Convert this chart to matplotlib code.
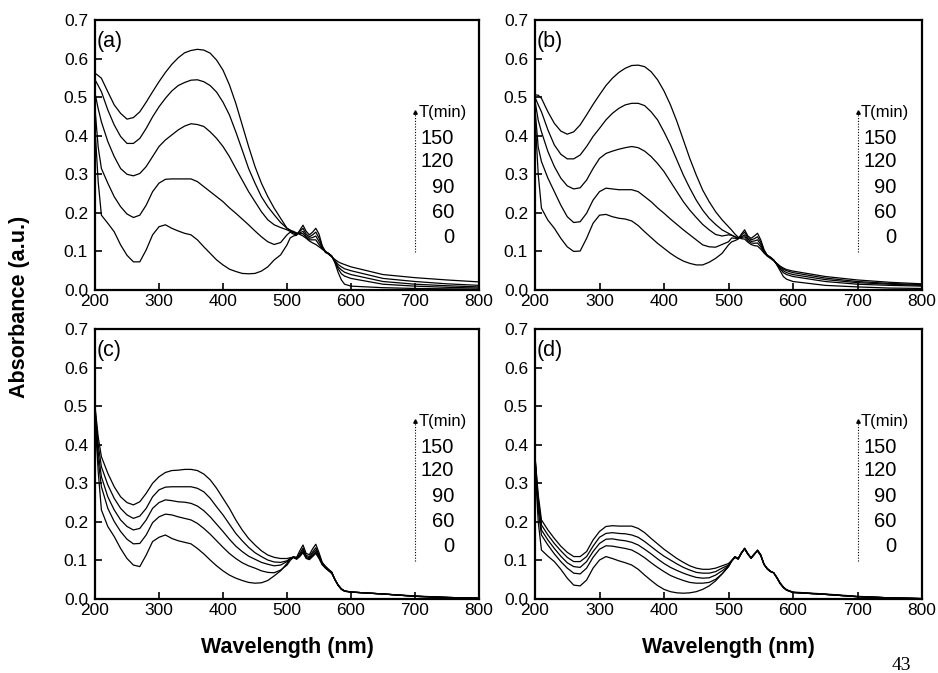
import matplotlib
matplotlib.use("Agg")
import matplotlib.pyplot as plt

plt.rcParams["font.family"] = ["Liberation Sans", "DejaVu Sans"]

# wavelength grid (nm) shared by all spectra
wavelength = [200, 205, 210, 220, 230, 240, 250, 260, 270, 280,
              290, 300, 310, 320, 330, 340, 350, 360, 370, 380,
              390, 400, 410, 420, 430, 440, 450, 460, 470, 480,
              490, 500, 505, 510, 515, 520, 525, 530, 535, 540,
              545, 550, 555, 560, 565, 570, 575, 580, 585, 590,
              600, 650, 700, 750, 800]

times = ["0", "60", "90", "120", "150"]

# panel (a)
a_0 = [0.420, 0.280, 0.194, 0.173, 0.151, 0.117, 0.090, 0.073, 0.073, 0.104,
       0.143, 0.164, 0.169, 0.160, 0.153, 0.147, 0.143, 0.130, 0.112, 0.095,
       0.078, 0.065, 0.054, 0.048, 0.043, 0.042, 0.043, 0.049, 0.060, 0.078,
       0.091, 0.117, 0.135, 0.140, 0.142, 0.155, 0.168, 0.152, 0.143, 0.150,
       0.160, 0.145, 0.115, 0.097, 0.095, 0.088, 0.070, 0.045, 0.026, 0.015,
       0.010, 0.006, 0.004, 0.003, 0.002]
a_60 = [0.470, 0.370, 0.315, 0.277, 0.242, 0.216, 0.197, 0.188, 0.194, 0.220,
        0.255, 0.277, 0.287, 0.288, 0.288, 0.288, 0.288, 0.281, 0.268, 0.255,
        0.242, 0.229, 0.213, 0.199, 0.184, 0.169, 0.153, 0.138, 0.125, 0.118,
        0.123, 0.143, 0.150, 0.145, 0.143, 0.152, 0.160, 0.145, 0.138, 0.143,
        0.150, 0.135, 0.113, 0.100, 0.095, 0.088, 0.072, 0.055, 0.042, 0.036,
        0.030, 0.015, 0.010, 0.007, 0.005]
a_90 = [0.510, 0.470, 0.436, 0.385, 0.346, 0.315, 0.300, 0.296, 0.302, 0.320,
        0.346, 0.372, 0.389, 0.402, 0.415, 0.425, 0.431, 0.429, 0.424, 0.410,
        0.393, 0.372, 0.346, 0.315, 0.285, 0.255, 0.229, 0.203, 0.182, 0.169,
        0.162, 0.156, 0.152, 0.148, 0.146, 0.148, 0.152, 0.140, 0.134, 0.136,
        0.140, 0.126, 0.110, 0.100, 0.094, 0.087, 0.074, 0.060, 0.052, 0.046,
        0.040, 0.022, 0.015, 0.011, 0.008]
a_120 = [0.545, 0.530, 0.514, 0.467, 0.428, 0.398, 0.380, 0.380, 0.393, 0.419,
         0.449, 0.475, 0.497, 0.516, 0.530, 0.538, 0.544, 0.545, 0.540, 0.530,
         0.513, 0.487, 0.454, 0.410, 0.363, 0.315, 0.277, 0.242, 0.216, 0.195,
         0.175, 0.160, 0.155, 0.150, 0.147, 0.146, 0.146, 0.136, 0.130, 0.130,
         0.130, 0.118, 0.107, 0.099, 0.093, 0.086, 0.076, 0.066, 0.060, 0.055,
         0.050, 0.030, 0.022, 0.016, 0.012]
a_150 = [0.562, 0.556, 0.549, 0.514, 0.480, 0.458, 0.443, 0.447, 0.462, 0.487,
         0.514, 0.540, 0.564, 0.585, 0.602, 0.615, 0.621, 0.624, 0.622, 0.614,
         0.596, 0.570, 0.532, 0.484, 0.428, 0.372, 0.320, 0.277, 0.242, 0.212,
         0.186, 0.160, 0.155, 0.152, 0.148, 0.144, 0.140, 0.134, 0.127, 0.122,
         0.118, 0.112, 0.106, 0.100, 0.093, 0.086, 0.079, 0.073, 0.069, 0.066,
         0.060, 0.040, 0.032, 0.026, 0.021]

# panel (b)
b_0 = [0.450, 0.300, 0.212, 0.181, 0.160, 0.134, 0.112, 0.100, 0.101, 0.134,
       0.173, 0.194, 0.196, 0.190, 0.186, 0.184, 0.179, 0.167, 0.151, 0.136,
       0.121, 0.108, 0.095, 0.084, 0.075, 0.069, 0.065, 0.065, 0.072, 0.082,
       0.095, 0.117, 0.125, 0.128, 0.132, 0.145, 0.156, 0.140, 0.134, 0.140,
       0.147, 0.130, 0.105, 0.090, 0.085, 0.078, 0.065, 0.050, 0.035, 0.028,
       0.022, 0.012, 0.008, 0.005, 0.004]
b_60 = [0.470, 0.370, 0.333, 0.290, 0.255, 0.220, 0.190, 0.175, 0.177, 0.199,
        0.233, 0.255, 0.264, 0.262, 0.260, 0.260, 0.260, 0.255, 0.242, 0.229,
        0.213, 0.199, 0.184, 0.170, 0.156, 0.143, 0.130, 0.117, 0.112, 0.111,
        0.118, 0.125, 0.135, 0.134, 0.134, 0.142, 0.150, 0.136, 0.130, 0.133,
        0.138, 0.124, 0.102, 0.090, 0.085, 0.078, 0.066, 0.055, 0.045, 0.040,
        0.035, 0.022, 0.015, 0.012, 0.010]
b_90 = [0.490, 0.440, 0.410, 0.359, 0.320, 0.290, 0.270, 0.262, 0.265, 0.285,
        0.315, 0.341, 0.354, 0.360, 0.365, 0.369, 0.372, 0.369, 0.360, 0.346,
        0.328, 0.307, 0.281, 0.255, 0.229, 0.207, 0.188, 0.170, 0.156, 0.144,
        0.140, 0.143, 0.142, 0.138, 0.135, 0.138, 0.143, 0.132, 0.126, 0.127,
        0.130, 0.118, 0.100, 0.090, 0.084, 0.077, 0.067, 0.058, 0.050, 0.045,
        0.040, 0.027, 0.019, 0.015, 0.012]
b_120 = [0.500, 0.480, 0.462, 0.415, 0.376, 0.352, 0.340, 0.340, 0.350, 0.372,
         0.398, 0.419, 0.441, 0.458, 0.471, 0.480, 0.484, 0.484, 0.478, 0.462,
         0.441, 0.410, 0.376, 0.337, 0.298, 0.264, 0.233, 0.207, 0.186, 0.170,
         0.156, 0.147, 0.142, 0.138, 0.135, 0.136, 0.138, 0.128, 0.122, 0.121,
         0.122, 0.112, 0.098, 0.089, 0.083, 0.077, 0.068, 0.060, 0.054, 0.050,
         0.045, 0.031, 0.022, 0.017, 0.014]
b_150 = [0.506, 0.505, 0.497, 0.462, 0.432, 0.412, 0.404, 0.410, 0.428, 0.454,
         0.481, 0.506, 0.530, 0.549, 0.564, 0.575, 0.582, 0.583, 0.579, 0.566,
         0.545, 0.516, 0.480, 0.437, 0.389, 0.341, 0.298, 0.259, 0.229, 0.203,
         0.182, 0.164, 0.155, 0.145, 0.137, 0.133, 0.132, 0.124, 0.118, 0.115,
         0.114, 0.106, 0.096, 0.088, 0.082, 0.076, 0.069, 0.062, 0.057, 0.053,
         0.049, 0.035, 0.026, 0.020, 0.016]

# panel (c)
c_0 = [0.470, 0.330, 0.231, 0.188, 0.162, 0.131, 0.105, 0.088, 0.084, 0.114,
       0.149, 0.160, 0.166, 0.157, 0.151, 0.147, 0.143, 0.131, 0.117, 0.101,
       0.086, 0.073, 0.062, 0.054, 0.048, 0.043, 0.041, 0.042, 0.048, 0.060,
       0.073, 0.092, 0.105, 0.110, 0.108, 0.125, 0.140, 0.118, 0.115, 0.130,
       0.142, 0.120, 0.095, 0.085, 0.077, 0.070, 0.050, 0.035, 0.025, 0.020,
       0.018, 0.013, 0.007, 0.004, 0.002]
c_60 = [0.480, 0.360, 0.291, 0.235, 0.201, 0.175, 0.155, 0.143, 0.144, 0.166,
        0.198, 0.213, 0.220, 0.218, 0.213, 0.209, 0.205, 0.196, 0.183, 0.168,
        0.151, 0.134, 0.118, 0.105, 0.094, 0.086, 0.080, 0.073, 0.069, 0.068,
        0.075, 0.088, 0.100, 0.108, 0.106, 0.118, 0.132, 0.113, 0.110, 0.122,
        0.133, 0.115, 0.093, 0.084, 0.076, 0.069, 0.050, 0.035, 0.025, 0.020,
        0.018, 0.013, 0.007, 0.004, 0.002]
c_90 = [0.490, 0.380, 0.317, 0.265, 0.231, 0.205, 0.188, 0.179, 0.183, 0.205,
        0.235, 0.250, 0.257, 0.255, 0.252, 0.251, 0.248, 0.241, 0.229, 0.213,
        0.194, 0.175, 0.155, 0.137, 0.123, 0.111, 0.103, 0.095, 0.090, 0.086,
        0.088, 0.097, 0.104, 0.108, 0.105, 0.114, 0.127, 0.110, 0.107, 0.117,
        0.127, 0.111, 0.092, 0.082, 0.075, 0.068, 0.050, 0.036, 0.026, 0.021,
        0.018, 0.013, 0.007, 0.004, 0.002]
c_120 = [0.495, 0.400, 0.343, 0.296, 0.261, 0.235, 0.218, 0.209, 0.215, 0.235,
         0.265, 0.283, 0.290, 0.291, 0.291, 0.291, 0.291, 0.287, 0.278, 0.261,
         0.239, 0.218, 0.194, 0.170, 0.151, 0.134, 0.120, 0.110, 0.101, 0.096,
         0.095, 0.099, 0.105, 0.108, 0.104, 0.112, 0.123, 0.107, 0.104, 0.113,
         0.122, 0.108, 0.090, 0.081, 0.074, 0.067, 0.050, 0.036, 0.026, 0.021,
         0.018, 0.013, 0.007, 0.004, 0.002]
c_150 = [0.500, 0.420, 0.369, 0.326, 0.291, 0.265, 0.250, 0.244, 0.252, 0.274,
         0.300, 0.317, 0.328, 0.333, 0.334, 0.336, 0.336, 0.333, 0.324, 0.309,
         0.287, 0.261, 0.235, 0.205, 0.179, 0.157, 0.140, 0.125, 0.114, 0.108,
         0.105, 0.105, 0.107, 0.108, 0.103, 0.110, 0.120, 0.105, 0.102, 0.110,
         0.118, 0.105, 0.089, 0.080, 0.073, 0.066, 0.050, 0.036, 0.026, 0.021,
         0.018, 0.013, 0.008, 0.004, 0.002]

# panel (d)
d_0 = [0.350, 0.200, 0.127, 0.111, 0.097, 0.077, 0.054, 0.036, 0.034, 0.049,
       0.080, 0.101, 0.110, 0.105, 0.099, 0.094, 0.088, 0.077, 0.062, 0.048,
       0.035, 0.025, 0.019, 0.016, 0.015, 0.016, 0.019, 0.025, 0.034, 0.047,
       0.065, 0.084, 0.098, 0.108, 0.103, 0.118, 0.132, 0.118, 0.105, 0.115,
       0.127, 0.115, 0.090, 0.078, 0.071, 0.068, 0.055, 0.040, 0.030, 0.023,
       0.017, 0.012, 0.006, 0.003, 0.001]
d_60 = [0.360, 0.230, 0.166, 0.140, 0.117, 0.097, 0.080, 0.067, 0.065, 0.080,
        0.108, 0.129, 0.138, 0.137, 0.134, 0.131, 0.127, 0.118, 0.107, 0.094,
        0.082, 0.071, 0.061, 0.054, 0.048, 0.043, 0.041, 0.041, 0.043, 0.051,
        0.065, 0.084, 0.099, 0.108, 0.104, 0.119, 0.131, 0.117, 0.106, 0.116,
        0.126, 0.114, 0.090, 0.078, 0.071, 0.068, 0.055, 0.040, 0.030, 0.023,
        0.017, 0.012, 0.006, 0.003, 0.001]
d_90 = [0.365, 0.250, 0.179, 0.153, 0.131, 0.111, 0.094, 0.084, 0.082, 0.097,
        0.123, 0.144, 0.155, 0.156, 0.153, 0.151, 0.147, 0.140, 0.129, 0.117,
        0.104, 0.092, 0.082, 0.074, 0.067, 0.061, 0.056, 0.054, 0.055, 0.062,
        0.073, 0.086, 0.099, 0.109, 0.104, 0.119, 0.131, 0.117, 0.106, 0.116,
        0.126, 0.114, 0.090, 0.079, 0.072, 0.068, 0.055, 0.041, 0.030, 0.023,
        0.017, 0.012, 0.006, 0.003, 0.001]
d_120 = [0.368, 0.260, 0.192, 0.166, 0.144, 0.125, 0.108, 0.097, 0.097, 0.110,
         0.137, 0.160, 0.170, 0.172, 0.170, 0.169, 0.166, 0.160, 0.149, 0.136,
         0.123, 0.111, 0.101, 0.091, 0.082, 0.075, 0.069, 0.067, 0.067, 0.071,
         0.080, 0.088, 0.100, 0.109, 0.105, 0.120, 0.130, 0.116, 0.107, 0.117,
         0.125, 0.113, 0.090, 0.079, 0.072, 0.068, 0.056, 0.041, 0.031, 0.024,
         0.017, 0.012, 0.006, 0.003, 0.001]
d_150 = [0.370, 0.270, 0.205, 0.179, 0.157, 0.137, 0.121, 0.110, 0.110, 0.123,
         0.153, 0.175, 0.188, 0.190, 0.189, 0.189, 0.189, 0.183, 0.172, 0.157,
         0.143, 0.129, 0.117, 0.105, 0.095, 0.086, 0.080, 0.077, 0.077, 0.080,
         0.086, 0.092, 0.100, 0.110, 0.105, 0.120, 0.130, 0.116, 0.107, 0.117,
         0.124, 0.112, 0.090, 0.079, 0.072, 0.068, 0.056, 0.042, 0.031, 0.024,
         0.018, 0.013, 0.007, 0.003, 0.001]

panels = [
    ("(a)", [a_0, a_60, a_90, a_120, a_150]),
    ("(b)", [b_0, b_60, b_90, b_120, b_150]),
    ("(c)", [c_0, c_60, c_90, c_120, c_150]),
    ("(d)", [d_0, d_60, d_90, d_120, d_150]),
]

# legend text heights (data units), top to bottom: 150 ... 0
legend_y = [0.394, 0.332, 0.267, 0.202, 0.137]

W, H = 938, 673
fig = plt.figure(figsize=(W / 100, H / 100), dpi=100)

# axes boxes in pixels: left, top, right, bottom
boxes = [(95, 20, 479, 290), (535, 20, 922, 290),
         (95, 329, 479, 599), (535, 329, 922, 599)]

for (label, series), (x0, y0, x1, y1) in zip(panels, boxes):
    ax = fig.add_axes([x0 / W, 1 - y1 / H, (x1 - x0) / W, (y1 - y0) / H])
    for spec in series:
        ax.plot(wavelength, spec, color="black", lw=0.9)

    ax.set_xlim(200, 800)
    ax.set_ylim(0, 0.7)
    ax.set_xticks([200, 300, 400, 500, 600, 700, 800])
    ax.set_yticks([0.0, 0.1, 0.2, 0.3, 0.4, 0.5, 0.6, 0.7])
    ax.set_yticklabels([f"{v:.1f}" for v in ax.get_yticks()])
    ax.tick_params(direction="in", length=5, width=1.2, labelsize=12.5)
    ax.tick_params(axis="x", pad=3)
    ax.tick_params(axis="y", pad=5)
    for sp in ax.spines.values():
        sp.set_linewidth(1.6)

    ax.text(202, 0.672, label, fontsize=15.5, ha="left", va="top")

    # time legend: dotted arrow with labels
    ax.plot([700, 700], [0.098, 0.458], color="black", lw=0.8, ls=(0, (1, 1.5)))
    ax.plot([700], [0.461], marker="^", ms=2.5, color="black")
    ax.text(705, 0.459, "T(min)", fontsize=12, ha="left", va="center")
    for t, y in zip(times[::-1], legend_y):
        ax.text(761, y, t, fontsize=14.5, ha="right", va="center")

fig.text(0.021, 0.544, "Absorbance (a.u.)", rotation=90, fontsize=15.5,
         fontweight="bold", ha="center", va="center")
fig.text(287 / W, 1 - 647 / H, "Wavelength (nm)", fontsize=15.5,
         fontweight="bold", ha="center", va="center")
fig.text(728 / W, 1 - 647 / H, "Wavelength (nm)", fontsize=15.5,
         fontweight="bold", ha="center", va="center")
fig.text(901 / W, 1 - 665 / H, "43", fontsize=14, family="Liberation Serif",
         ha="center", va="center")

fig.savefig("out.png", dpi=100)
